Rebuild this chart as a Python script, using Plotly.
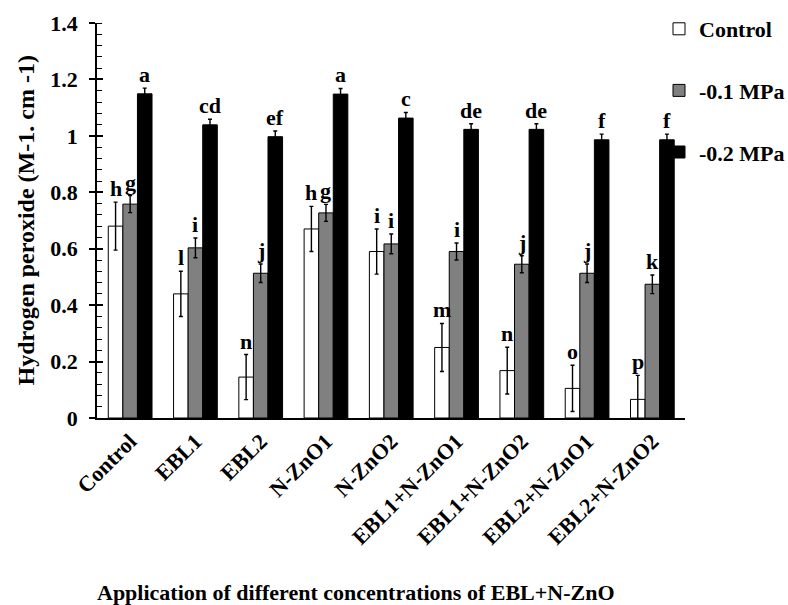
import plotly.graph_objects as go

categories = ["Control", "EBL1", "EBL2", "N-ZnO1", "N-ZnO2",
              "EBL1+N-ZnO1", "EBL1+N-ZnO2", "EBL2+N-ZnO1", "EBL2+N-ZnO2"]
series_names = ["Control", "-0.1 MPa", "-0.2 MPa"]
control_vals = [0.68, 0.44, 0.145, 0.67, 0.59, 0.25, 0.168, 0.105, 0.066]
mpa01_vals = [0.758, 0.603, 0.513, 0.727, 0.617, 0.59, 0.545, 0.513, 0.474]
mpa02_vals = [1.149, 1.039, 0.997, 1.148, 1.063, 1.023, 1.023, 0.986, 0.986]
control_err = [0.085, 0.08, 0.08, 0.08, 0.08, 0.085, 0.083, 0.082, 0.085]
mpa01_err = [0.03, 0.035, 0.033, 0.03, 0.035, 0.03, 0.03, 0.033, 0.033]
mpa02_err = [0.02, 0.02, 0.02, 0.02, 0.02, 0.02, 0.02, 0.02, 0.02]
control_letters = ["h", "l", "n", "h", "i", "m", "n", "o", "p"]
mpa01_letters = ["g", "i", "j", "g", "i", "i", "j", "j", "k"]
mpa02_letters = ["a", "cd", "ef", "a", "c", "de", "de", "f", "f"]
y_ticks = [0, 0.2, 0.4, 0.6, 0.8, 1.0, 1.2, 1.4]
x_title = "Application of different concentrations of EBL+N-ZnO"
y_title = "Hydrogen peroxide (M-1. cm -1)"

W, H = 788, 605
ML, MR, MT, MB = 97, 103, 23, 187
BARGAP = 0.33
FONT = "Liberation Serif, Times New Roman, serif"
colors = ["#ffffff", "#808080", "#000000"]

values = [control_vals, mpa01_vals, mpa02_vals]
errors = [control_err, mpa01_err, mpa02_err]
letters = [control_letters, mpa01_letters, mpa02_letters]

fig = go.Figure()
for j in range(3):
    fig.add_trace(go.Bar(
        x=categories, y=values[j], name=series_names[j],
        marker=dict(color=colors[j], line=dict(color="black", width=1)),
        error_y=dict(type="data", array=errors[j], color="black",
                     thickness=1.4, width=2),
        legendgroup=series_names[j],
    ))

plot_w = W - ML - MR
plot_h = H - MT - MB
bar_px = plot_w / len(categories) * (1 - BARGAP) / 3
annotations = []
for j in range(3):
    for i, c in enumerate(categories):
        annotations.append(dict(
            x=c, y=values[j][i] + errors[j][i], xref="x", yref="y",
            text=letters[j][i], showarrow=False, yanchor="bottom",
            xshift=(j - 1) * bar_px, yshift=-1,
            font=dict(family=FONT, size=22, color="black", weight="bold"),
        ))
annotations.append(dict(
    x=(356 - ML) / plot_w, y=-(592 - (H - MB)) / plot_h,
    xref="paper", yref="paper", text=x_title, showarrow=False,
    xanchor="center", yanchor="middle",
    font=dict(family=FONT, size=22, color="black", weight="bold")))
annotations.append(dict(
    x=-(ML - 25) / plot_w, y=0.5, xref="paper", yref="paper",
    text=y_title, showarrow=False, textangle=-90,
    xanchor="center", yanchor="middle",
    font=dict(family=FONT, size=24, color="black", weight="bold")))

fig.update_layout(
    width=W, height=H,
    margin=dict(l=ML, r=MR, t=MT, b=MB, pad=0, autoexpand=False),
    paper_bgcolor="white", plot_bgcolor="white",
    barmode="group", bargap=BARGAP, bargroupgap=0,
    font=dict(family=FONT, size=22, color="black", weight="bold"),
    showlegend=True,
    legend=dict(x=(659 - ML) / plot_w, y=1.0 + 15 / plot_h,
                xanchor="left", yanchor="top",
                font=dict(family=FONT, size=22, color="black", weight="bold"),
                tracegroupgap=30, bgcolor="rgba(0,0,0,0)"),
    annotations=annotations,
    xaxis=dict(showline=True, linecolor="black", linewidth=1.5,
               ticks="", tickangle=-45, ticklabelstandoff=0,
               tickfont=dict(family=FONT, size=22, color="black", weight="bold"),
               showgrid=False, zeroline=False),
    yaxis=dict(range=[0, 1.4], tickvals=y_ticks, showline=True,
               linecolor="black", linewidth=1.5, ticks="outside",
               ticklen=6, tickwidth=1.5, tickcolor="black",
               ticklabelstandoff=7,
               tickfont=dict(family=FONT, size=22, color="black", weight="bold"),
               minor=dict(dtick=0.04, ticks="inside", ticklen=5,
                          tickwidth=1, tickcolor="black"),
               showgrid=False, zeroline=False),
    yaxis2=dict(range=[0, 1.4], tickvals=y_ticks, overlaying="y",
                side="left", ticks="inside", ticklen=6, tickwidth=1.5,
                tickcolor="black", showticklabels=False, showline=False,
                showgrid=False, zeroline=False),
)
fig.add_trace(go.Scatter(x=[categories[0]], y=[0], yaxis="y2",
                         mode="markers", marker=dict(opacity=0),
                         showlegend=False, hoverinfo="skip"))

fig.write_html("out.html", config={"displayModeBar": False},
               post_script="document.body.style.margin='0';")
